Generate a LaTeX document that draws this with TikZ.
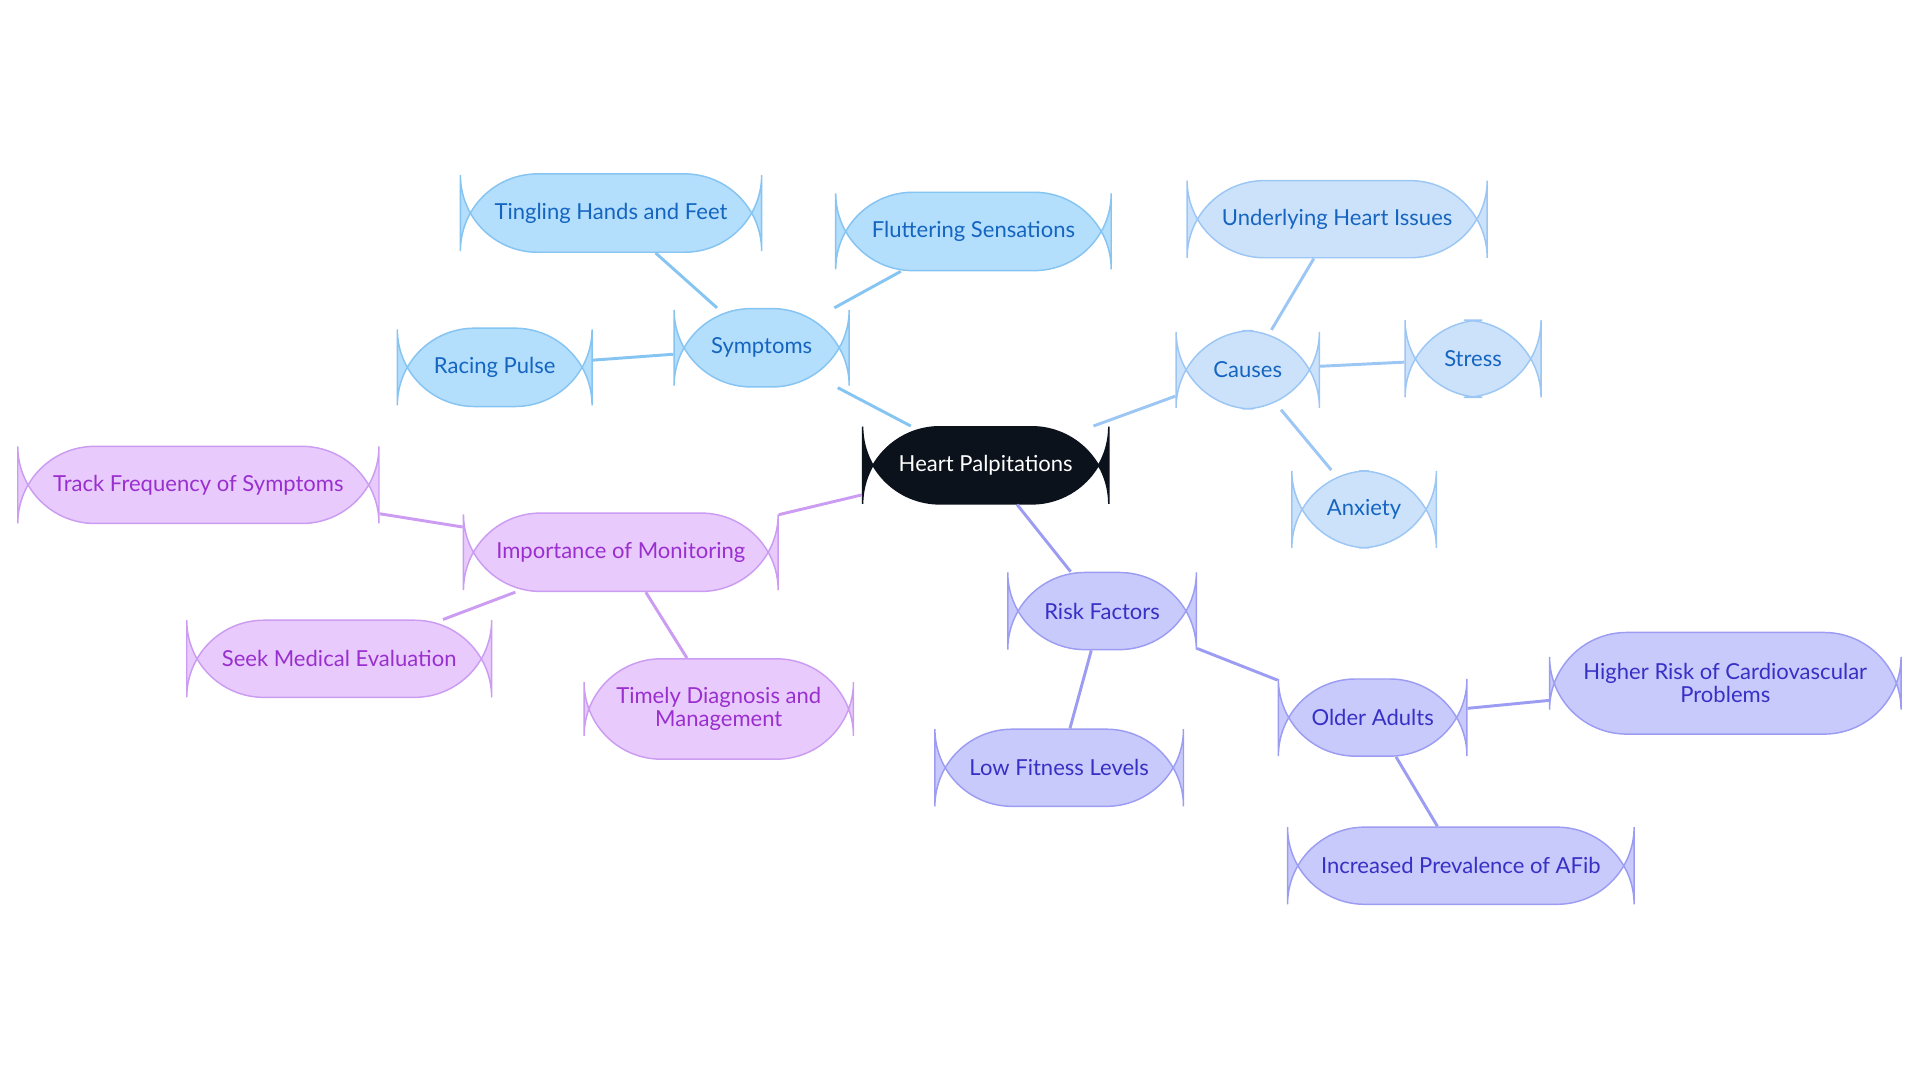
\documentclass[tikz,border=0pt]{standalone}
\usepackage{fontspec}
\setmainfont{Lato}
\definecolor{symf}{HTML}{B3DEFC}\definecolor{symd}{HTML}{86C4F2}\definecolor{symt}{HTML}{1565C0}
\definecolor{cauf}{HTML}{CCE2FB}\definecolor{caud}{HTML}{9CC6F4}
\definecolor{rskf}{HTML}{C8CAFC}\definecolor{rskd}{HTML}{9C9DF2}\definecolor{rskt}{HTML}{3730C4}
\definecolor{impf}{HTML}{E8CBFC}\definecolor{impd}{HTML}{CB9CF2}\definecolor{impt}{HTML}{9A2FCF}
\definecolor{rootf}{HTML}{0B121C}
\tikzset{
 base/.style={rounded corners=31.5, line width=0.6pt, align=center, font=\fontsize{9}{9.5}\selectfont, inner sep=0pt},
 sym/.style={base, fill=symf, draw=symd, text=symt},
 cau/.style={base, fill=cauf, draw=caud, text=symt},
 rsk/.style={base, fill=rskf, draw=rskd, text=rskt},
 imp/.style={base, fill=impf, draw=impd, text=impt},
 edge/.style={line width=1.2pt},
}
\newcommand{\nd}[7]{\node[#1, minimum width=#5*0.5pt, minimum height=#6*0.5pt] (#2) at (#3,#4) {#7};}
\begin{document}
\begin{tikzpicture}[x=0.5pt,y=-0.5pt]
\useasboundingbox (0,0) rectangle (1568,884.4);
\nd{base, fill=rootf, draw=rootf, text=white}{root}{805}{380}{201}{63}{Heart Palpitations}
\nd{sym}{sy}{622}{284}{143}{64}{Symptoms}
\nd{sym}{ti}{499}{174}{246}{64}{Tingling Hands and Feet}
\nd{sym}{fl}{795}{189}{225}{64}{Fluttering Sensations}
\nd{sym}{ra}{404}{300}{159}{64}{Racing Pulse}
\nd{cau}{ca}{1019}{302}{117}{64}{Causes}
\nd{cau}{un}{1092}{179}{245}{63}{Underlying Heart Issues}
\nd{cau}{st}{1203}{293}{111}{63}{Stress}
\nd{cau}{an}{1114}{416}{118}{63}{Anxiety}
\nd{rsk}{rf}{900}{499}{154}{63}{Risk Factors}
\nd{rsk}{oa}{1121}{586}{154}{63}{Older Adults}
\nd{rsk}{hr}{1409}{558}{287}{83}{Higher Risk of Cardiovascular\\Problems}
\nd{rsk}{ip}{1193}{707}{283}{63}{Increased Prevalence of AFib}
\nd{rsk}{lf}{865}{627}{203}{63}{Low Fitness Levels}
\nd{imp}{im}{507}{451}{257}{64}{Importance of Monitoring}
\nd{imp}{tr}{162}{396}{295}{63}{Track Frequency of Symptoms}
\nd{imp}{se}{277}{538}{249}{63}{Seek Medical Evaluation}
\nd{imp}{tm}{587}{579}{220}{82}{Timely Diagnosis and\\Management}
\draw[edge, symd] (root) -- (sy); \draw[edge, symd] (sy) -- (ti);
\draw[edge, symd] (sy) -- (fl); \draw[edge, symd] (sy) -- (ra);
\draw[edge, caud] (root) -- (ca); \draw[edge, caud] (ca) -- (un);
\draw[edge, caud] (ca) -- (st); \draw[edge, caud] (ca) -- (an);
\draw[edge, rskd] (root) -- (rf); \draw[edge, rskd] (rf) -- (oa);
\draw[edge, rskd] (oa) -- (hr); \draw[edge, rskd] (oa) -- (ip);
\draw[edge, rskd] (rf) -- (lf);
\draw[edge, impd] (root) -- (im); \draw[edge, impd] (im) -- (tr);
\draw[edge, impd] (im) -- (se); \draw[edge, impd] (im) -- (tm);
\end{tikzpicture}
\end{document}
